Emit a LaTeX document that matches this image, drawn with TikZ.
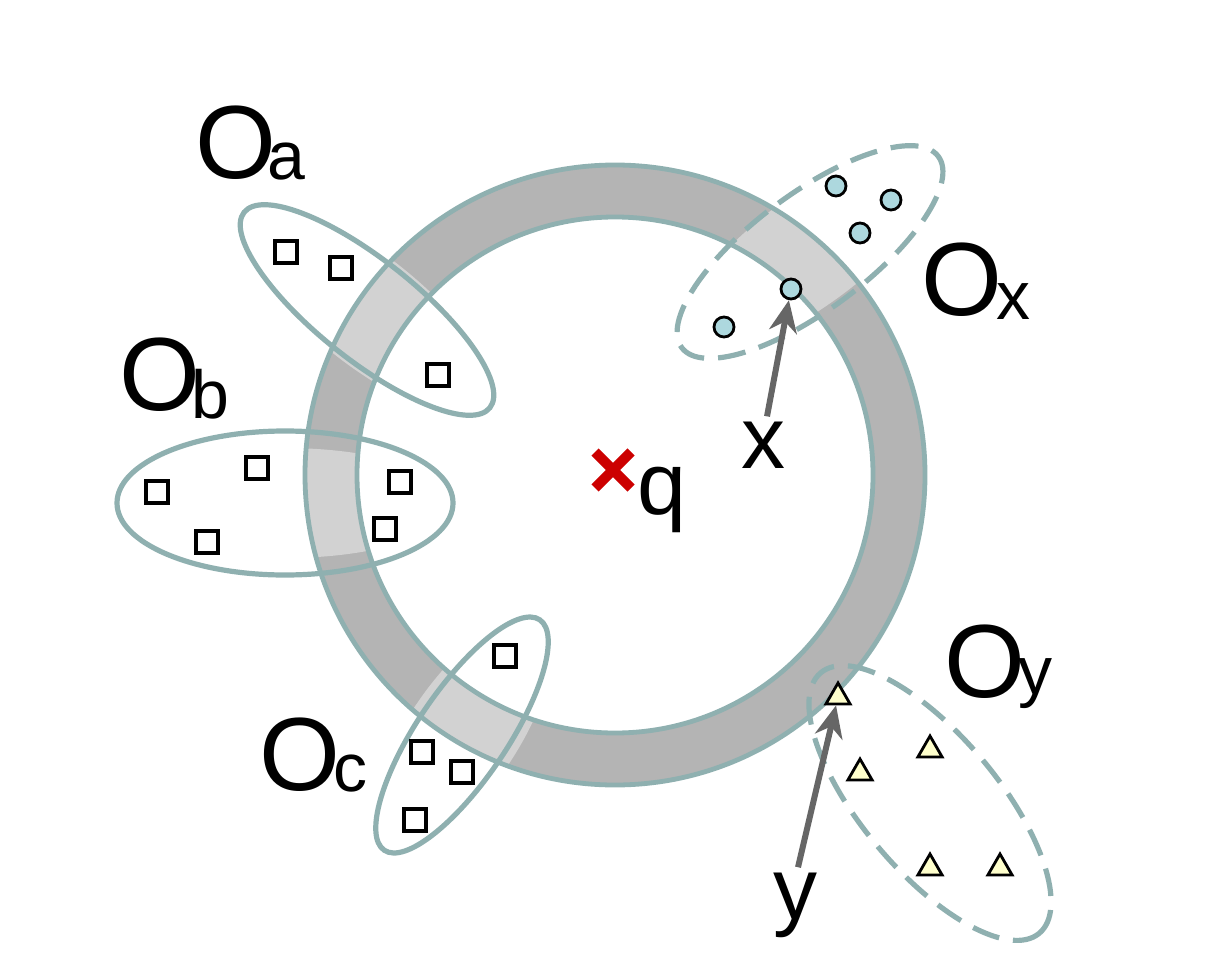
\documentclass[tikz,border=0pt]{standalone}
\usepackage{fontspec}
\setmainfont{Liberation Sans}
\usetikzlibrary{arrows.meta,shapes.geometric}
\definecolor{rimteal}{HTML}{8FB0B0}
\definecolor{ringgray}{HTML}{B4B4B4}
\definecolor{lightring}{HTML}{D2D2D2}
\definecolor{dotblue}{HTML}{ADD8DE}
\definecolor{triyellow}{HTML}{FFFFCC}
\definecolor{crossred}{HTML}{CC0000}
\begin{document}
\begin{tikzpicture}[x=0.5pt,y=-0.5pt]
\tikzset{sq/.style={draw, line width=1.6pt, fill=white, minimum size=11pt, inner sep=0pt}, % object square
  dot/.style={circle, draw, line width=1.4pt, fill=dotblue, minimum size=10pt, inner sep=0pt},
  tri/.style={regular polygon, regular polygon sides=3, draw, line width=1.4pt, fill=triyellow, minimum size=14pt, inner sep=0pt},
  grp/.style={draw=rimteal, line width=2.6pt},
  dgrp/.style={grp, dash pattern=on 14pt off 7pt},
  lbl/.style={font=\fontsize{52}{52}\selectfont, inner sep=0pt},
  sub/.style={font=\fontsize{34}{34}\selectfont, inner sep=0pt},
  ptr/.style={draw=gray!80!black, line width=3pt, -{Stealth[length=16pt,width=14pt]}}}
\useasboundingbox (0,0) rectangle (1229,968);
\fill[white] (0,0) rectangle (1229,968);
% ring
\fill[ringgray, even odd rule] (615,475) circle[radius=310] (615,475) circle[radius=258];
% lighter ring inside groups
\foreach \c/\r/\a/\b in {367/310/-38.5/157, 285/503/0/168, 462/735/56/139, 810/250/36.7/160} {
  \begin{scope}
    \clip (\c,\r) circle[x radius=\b, y radius=55, rotate=\a];
    \fill[lightring, even odd rule] (615,475) circle[radius=310] (615,475) circle[radius=258];
  \end{scope}
}
\draw[rimteal, line width=2.4pt] (615,475) circle[radius=310] (615,475) circle[radius=258];
% groups
\draw[grp] (367,310) circle[x radius=157, y radius=50, rotate=-38.5];
\draw[grp] (285,503) circle[x radius=168, y radius=72];
\draw[grp] (462,735) circle[x radius=139, y radius=45, rotate=56];
\draw[dgrp] (810,252) circle[x radius=160, y radius=58, rotate=36.7];
\draw[dgrp] (930,803) circle[x radius=170, y radius=68, rotate=-50];
% objects
\foreach \p in {(286,252),(341,268),(438,375),(157,492),(257,468),(400,482),(207,542),(385,529),(505,656),(422,752),(462,772),(415,820)}
  \node[sq] at \p {};
\foreach \p in {(836,186),(891,200),(860,233),(724,327)}
  \node[dot] at \p {};
\node[dot] (px) at (791,289) {};
\foreach \p in {(860,773),(930,750),(930,868),(1000,868)}
  \node[tri] at \p {};
\node[tri] (py) at (838,697) {};
% query
\coordinate (q) at (613,470);
\draw[crossred, line width=5pt] (q) ++(-18,-18) -- ++(36,36) (q) ++(-18,18) -- ++(36,-36);
\node[font=\fontsize{44}{44}\selectfont, inner sep=0pt] (ql) at (662,500) {q};
% labels
\node[lbl] (oa) at (236,143) {O}; \node[sub] at (286,162) {a};
\node[lbl] (ob) at (160,375) {O}; \node[sub] at (210,394) {b};
\node[lbl] (oc) at (300,755) {O}; \node[sub] at (350,774) {c};
\node[lbl] (ox) at (962,280) {O}; \node[sub] at (1013,302) {x};
\node[lbl] (oy) at (985,662) {O}; \node[sub] at (1035,684) {y};
\node[font=\fontsize{44}{44}\selectfont, inner sep=0pt] (xl) at (763,445) {x};
\node[font=\fontsize{44}{44}\selectfont, inner sep=0pt] (yl) at (795,905) {y};
\draw[ptr] (xl.north) ++(4,-5) -- (px);
\draw[ptr] (yl.north) ++(3,-5) -- (py);
\end{tikzpicture}
\end{document}
